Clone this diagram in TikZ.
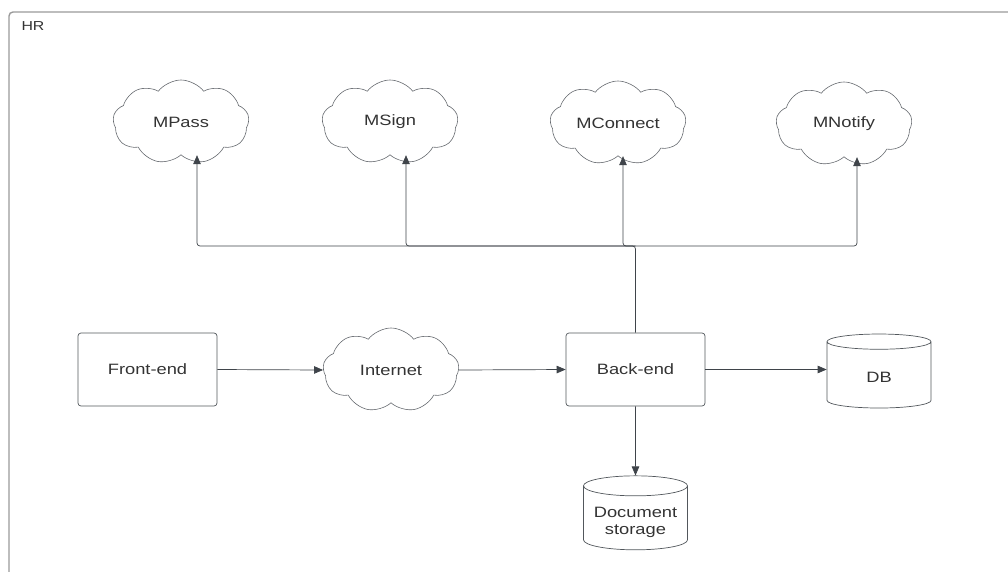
\documentclass[tikz,border=0pt]{standalone}
\usepackage{fontspec}
\setmainfont{Liberation Sans}[FakeStretch=1.22]
\usetikzlibrary{shapes.symbols,shapes.geometric,arrows.meta}
\definecolor{txt}{HTML}{333333}
\definecolor{ln}{HTML}{3F444A}
\definecolor{frame}{HTML}{9A9A9A}
\begin{document}
\begin{tikzpicture}[x=1pt,y=-1pt,
  lbl/.style={font=\fontsize{15}{17}\selectfont, text=txt},
  cl/.style={cloud, cloud puffs=9, cloud puff arc=105, cloud ignores aspect,
    draw=ln!80, line width=0.6pt, minimum width=136pt, minimum height=84pt, inner sep=0pt, lbl},
  boxnode/.style={draw=ln!90, line width=0.7pt, rounded corners=3pt, minimum width=139pt, minimum height=73pt, inner sep=0pt, lbl},
  cyl/.style={cylinder, shape border rotate=90, draw=ln!90, line width=0.7pt,
    minimum width=104pt, minimum height=74pt, inner sep=0pt, lbl, align=center},
  arr/.style={draw=ln, line width=0.7pt, -{Triangle[length=9pt,width=7.5pt]}, rounded corners=3pt}
]
\useasboundingbox (0,0) rectangle (1008,571);
\begin{scope}
\clip (0,0) rectangle (1008,571);
\draw[frame, line width=1.4pt, rounded corners=4pt] (9,12) rectangle (1040,620);
\end{scope}
\node[anchor=west, font=\fontsize{13}{15}\selectfont, text=txt] (hr) at (18,26) {HR};

\node[cl] (mpass) at (181,122) {MPass};
\node[cl] (msign) at (390,122) {MSign};
\node[cl] (mconn) at (618,123) {MConnect};
\node[cl] (mnot) at (844,124) {MNotify};

\node[boxnode] (fe) at (147.5,369.5) {Front-end};
\node[cl] (inet) at (391,370) {Internet};
\node[boxnode] (be) at (635.5,369.5) {Back-end};
\node[cyl, aspect=0.6] (db) at (879,375) {\\[-3pt]DB};
\node[cyl, aspect=0.24] (doc) at (635.5,518) {\\[3pt]Document\\storage};

\coordinate (bus) at (635.5,246);

\draw[arr] (be.north) -- (bus) -| ([xshift=16pt]mpass.south);
\draw[arr] (bus) -| ([xshift=16pt]msign.south);
\draw[arr] (bus) -| ([xshift=5pt]mconn.south);
\draw[arr] (bus) -| ([xshift=13pt]mnot.south);

\draw[arr] (fe.east) -- (inet.west);
\draw[arr] (inet.east) -- (be.west);
\draw[arr] (be.east) -- (be.east -| db.west);
\draw[arr] (be.south) -- (doc.north);
\end{tikzpicture}
\end{document}
